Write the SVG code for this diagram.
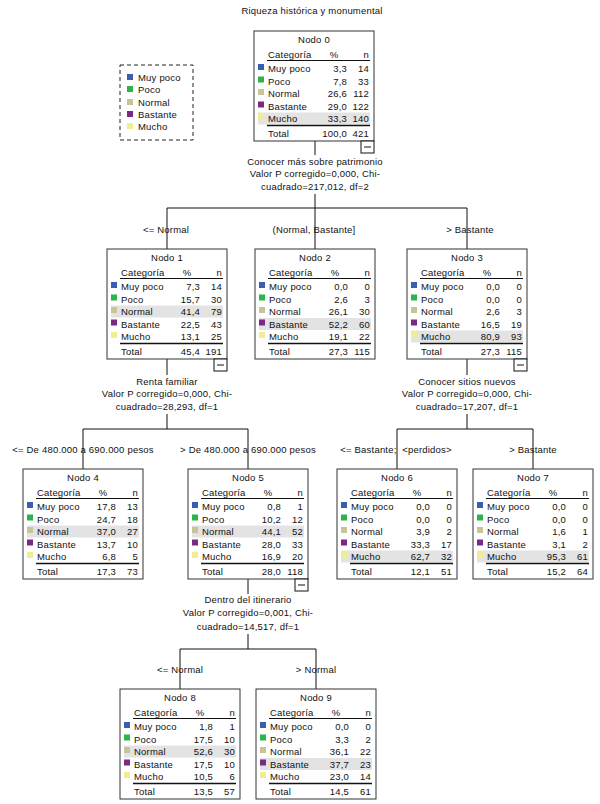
<svg xmlns="http://www.w3.org/2000/svg" width="600" height="804" viewBox="0 0 600 804">
<style>
text{font-family:"Liberation Sans",Arial,sans-serif;font-size:9.5px;fill:#111;letter-spacing:0.2px}
.c{text-anchor:middle}
.r{text-anchor:end}
.box{fill:#fff;stroke:#333;stroke-width:1}
.hl{fill:#e3e3e3}
.ln{stroke:#111;stroke-width:1;fill:none}
.tk{stroke:#111;stroke-width:1.5}
.c1{fill:#3a5fb0}.c2{fill:#2db34a}.c3{fill:#c8c49a}.c4{fill:#7a2a86}.c5{fill:#f0ee90}
.col{fill:#fff;stroke:#111;stroke-width:1}
</style>
<defs>
<g id="sq">
<rect class="c1" x="4" y="33" width="6" height="6"/>
<rect class="c2" x="4" y="45.5" width="6" height="6"/>
<rect class="c3" x="4" y="58" width="6" height="6"/>
<rect class="c4" x="4" y="70.5" width="6" height="6"/>
<rect class="c5" x="4" y="83" width="6" height="6"/>
</g>
<g id="frame">
<rect class="box" x="0" y="0" width="120" height="110"/>
</g>
<g id="labels">
<text x="14" y="26.5">Categoría</text><text class="c" x="80" y="26.5">%</text><text class="r" x="115" y="26.5">n</text>
<line class="ln" x1="13" y1="29.5" x2="116" y2="29.5"/>
<text x="14" y="41">Muy poco</text>
<text x="14" y="53.5">Poco</text>
<text x="14" y="66">Normal</text>
<text x="14" y="78.5">Bastante</text>
<text x="14" y="91">Mucho</text>
<line class="tk" x1="13" y1="94.5" x2="116" y2="94.5"/>
<text x="14" y="105.5">Total</text>
</g>
<g id="minus"><rect class="col" x="0" y="0" width="13" height="12"/><line class="ln" x1="3" y1="6" x2="10" y2="6"/></g>
</defs>

<text class="c" x="312" y="14">Riqueza histórica y monumental</text>

<g id="legend">
<rect x="120" y="65" width="73" height="75" fill="#fff" stroke="#222" stroke-dasharray="4,3"/>
<rect class="c1" x="127" y="74" width="6" height="6"/><text x="138" y="81">Muy poco</text>
<rect class="c2" x="127" y="86" width="6" height="6"/><text x="138" y="93">Poco</text>
<rect class="c3" x="127" y="99" width="6" height="6"/><text x="138" y="106">Normal</text>
<rect class="c4" x="127" y="111" width="6" height="6"/><text x="138" y="118">Bastante</text>
<rect class="c5" x="127" y="123" width="6" height="6"/><text x="138" y="130">Mucho</text>
</g>

<g id="connectors">
<line class="ln" x1="315" y1="140" x2="315" y2="155"/>
<text class="c" x="315" y="165">Conocer más sobre patrimonio</text>
<text class="c" x="315" y="177">Valor P corregido=0,000, Chi-</text>
<text class="c" x="315" y="190">cuadrado=217,012, df=2</text>
<polyline class="ln" points="315,194 315,208"/>
<polyline class="ln" points="167,249 167,208 467,208 467,249"/>
<line class="ln" x1="315" y1="208" x2="315" y2="249"/>
<text class="c" x="166" y="233">&lt;= Normal</text>
<text class="c" x="314" y="233">(Normal, Bastante]</text>
<text class="c" x="470" y="233">&gt; Bastante</text>

<line class="ln" x1="167" y1="359" x2="167" y2="375"/>
<text class="c" x="167" y="385">Renta familiar</text>
<text class="c" x="167" y="397">Valor P corregido=0,000, Chi-</text>
<text class="c" x="167" y="410">cuadrado=28,293, df=1</text>
<polyline class="ln" points="167,414 167,429"/>
<polyline class="ln" points="83,469 83,429 248,429 248,469"/>
<text class="c" x="83" y="453">&lt;= De 480.000 a 690.000 pesos</text>
<text class="c" x="248" y="453">&gt; De 480.000 a 690.000 pesos</text>

<line class="ln" x1="467" y1="359" x2="467" y2="375"/>
<text class="c" x="467" y="385">Conocer sitios nuevos</text>
<text class="c" x="467" y="397">Valor P corregido=0,000, Chi-</text>
<text class="c" x="467" y="410">cuadrado=17,207, df=1</text>
<polyline class="ln" points="467,414 467,429"/>
<polyline class="ln" points="397,469 397,429 533,429 533,469"/>
<text class="c" x="396" y="453">&lt;= Bastante;&#160; &lt;perdidos&gt;</text>
<text class="c" x="533" y="453">&gt; Bastante</text>

<line class="ln" x1="248" y1="579" x2="248" y2="594"/>
<text class="c" x="248" y="603">Dentro del itinerario</text>
<text class="c" x="248" y="616">Valor P corregido=0,001, Chi-</text>
<text class="c" x="248" y="630">cuadrado=14,517, df=1</text>
<polyline class="ln" points="248,634 248,649"/>
<polyline class="ln" points="180,689 180,649 316,649 316,689"/>
<text class="c" x="180" y="673">&lt;= Normal</text>
<text class="c" x="316" y="673">&gt; Normal</text>
</g>

<g id="nodo0" transform="translate(254,31)">
<use href="#frame"/><rect class="hl" x="4" y="81.5" width="112" height="12"/><use href="#sq"/><use href="#labels"/>
<text class="c" x="60" y="12">Nodo 0</text>
<text class="r" x="93" y="41">3,3</text><text class="r" x="115" y="41">14</text>
<text class="r" x="93" y="53.5">7,8</text><text class="r" x="115" y="53.5">33</text>
<text class="r" x="93" y="66">26,6</text><text class="r" x="115" y="66">112</text>
<text class="r" x="93" y="78.5">29,0</text><text class="r" x="115" y="78.5">122</text>
<text class="r" x="93" y="91">33,3</text><text class="r" x="115" y="91">140</text>
<text class="r" x="93" y="105.5">100,0</text><text class="r" x="115" y="105.5">421</text>
<use href="#minus" x="107" y="110"/>
</g>

<g id="nodo1" transform="translate(107,249)">
<use href="#frame"/><rect class="hl" x="4" y="56.5" width="112" height="12"/><use href="#sq"/><use href="#labels"/>
<text class="c" x="60" y="12">Nodo 1</text>
<text class="r" x="93" y="41">7,3</text><text class="r" x="115" y="41">14</text>
<text class="r" x="93" y="53.5">15,7</text><text class="r" x="115" y="53.5">30</text>
<text class="r" x="93" y="66">41,4</text><text class="r" x="115" y="66">79</text>
<text class="r" x="93" y="78.5">22,5</text><text class="r" x="115" y="78.5">43</text>
<text class="r" x="93" y="91">13,1</text><text class="r" x="115" y="91">25</text>
<text class="r" x="93" y="105.5">45,4</text><text class="r" x="115" y="105.5">191</text>
<use href="#minus" x="107" y="110"/>
</g>

<g id="nodo2" transform="translate(255,249)">
<use href="#frame"/><rect class="hl" x="4" y="69" width="112" height="12"/><use href="#sq"/><use href="#labels"/>
<text class="c" x="60" y="12">Nodo 2</text>
<text class="r" x="93" y="41">0,0</text><text class="r" x="115" y="41">0</text>
<text class="r" x="93" y="53.5">2,6</text><text class="r" x="115" y="53.5">3</text>
<text class="r" x="93" y="66">26,1</text><text class="r" x="115" y="66">30</text>
<text class="r" x="93" y="78.5">52,2</text><text class="r" x="115" y="78.5">60</text>
<text class="r" x="93" y="91">19,1</text><text class="r" x="115" y="91">22</text>
<text class="r" x="93" y="105.5">27,3</text><text class="r" x="115" y="105.5">115</text>
</g>

<g id="nodo3" transform="translate(407,249)">
<use href="#frame"/><rect class="hl" x="4" y="81.5" width="112" height="12"/><use href="#sq"/><use href="#labels"/>
<text class="c" x="60" y="12">Nodo 3</text>
<text class="r" x="93" y="41">0,0</text><text class="r" x="115" y="41">0</text>
<text class="r" x="93" y="53.5">0,0</text><text class="r" x="115" y="53.5">0</text>
<text class="r" x="93" y="66">2,6</text><text class="r" x="115" y="66">3</text>
<text class="r" x="93" y="78.5">16,5</text><text class="r" x="115" y="78.5">19</text>
<text class="r" x="93" y="91">80,9</text><text class="r" x="115" y="91">93</text>
<text class="r" x="93" y="105.5">27,3</text><text class="r" x="115" y="105.5">115</text>
<use href="#minus" x="107" y="110"/>
</g>

<g id="nodo4" transform="translate(23,469)">
<use href="#frame"/><rect class="hl" x="4" y="56.5" width="112" height="12"/><use href="#sq"/><use href="#labels"/>
<text class="c" x="60" y="12">Nodo 4</text>
<text class="r" x="93" y="41">17,8</text><text class="r" x="115" y="41">13</text>
<text class="r" x="93" y="53.5">24,7</text><text class="r" x="115" y="53.5">18</text>
<text class="r" x="93" y="66">37,0</text><text class="r" x="115" y="66">27</text>
<text class="r" x="93" y="78.5">13,7</text><text class="r" x="115" y="78.5">10</text>
<text class="r" x="93" y="91">6,8</text><text class="r" x="115" y="91">5</text>
<text class="r" x="93" y="105.5">17,3</text><text class="r" x="115" y="105.5">73</text>
</g>

<g id="nodo5" transform="translate(188,469)">
<use href="#frame"/><rect class="hl" x="4" y="56.5" width="112" height="12"/><use href="#sq"/><use href="#labels"/>
<text class="c" x="60" y="12">Nodo 5</text>
<text class="r" x="93" y="41">0,8</text><text class="r" x="115" y="41">1</text>
<text class="r" x="93" y="53.5">10,2</text><text class="r" x="115" y="53.5">12</text>
<text class="r" x="93" y="66">44,1</text><text class="r" x="115" y="66">52</text>
<text class="r" x="93" y="78.5">28,0</text><text class="r" x="115" y="78.5">33</text>
<text class="r" x="93" y="91">16,9</text><text class="r" x="115" y="91">20</text>
<text class="r" x="93" y="105.5">28,0</text><text class="r" x="115" y="105.5">118</text>
<use href="#minus" x="107" y="110"/>
</g>

<g id="nodo6" transform="translate(337,469)">
<use href="#frame"/><rect class="hl" x="4" y="81.5" width="112" height="12"/><use href="#sq"/><use href="#labels"/>
<text class="c" x="60" y="12">Nodo 6</text>
<text class="r" x="93" y="41">0,0</text><text class="r" x="115" y="41">0</text>
<text class="r" x="93" y="53.5">0,0</text><text class="r" x="115" y="53.5">0</text>
<text class="r" x="93" y="66">3,9</text><text class="r" x="115" y="66">2</text>
<text class="r" x="93" y="78.5">33,3</text><text class="r" x="115" y="78.5">17</text>
<text class="r" x="93" y="91">62,7</text><text class="r" x="115" y="91">32</text>
<text class="r" x="93" y="105.5">12,1</text><text class="r" x="115" y="105.5">51</text>
</g>

<g id="nodo7" transform="translate(473,469)">
<use href="#frame"/><rect class="hl" x="4" y="81.5" width="112" height="12"/><use href="#sq"/><use href="#labels"/>
<text class="c" x="60" y="12">Nodo 7</text>
<text class="r" x="93" y="41">0,0</text><text class="r" x="115" y="41">0</text>
<text class="r" x="93" y="53.5">0,0</text><text class="r" x="115" y="53.5">0</text>
<text class="r" x="93" y="66">1,6</text><text class="r" x="115" y="66">1</text>
<text class="r" x="93" y="78.5">3,1</text><text class="r" x="115" y="78.5">2</text>
<text class="r" x="93" y="91">95,3</text><text class="r" x="115" y="91">61</text>
<text class="r" x="93" y="105.5">15,2</text><text class="r" x="115" y="105.5">64</text>
</g>

<g id="nodo8" transform="translate(120,689)">
<use href="#frame"/><rect class="hl" x="4" y="56.5" width="112" height="12"/><use href="#sq"/><use href="#labels"/>
<text class="c" x="60" y="12">Nodo 8</text>
<text class="r" x="93" y="41">1,8</text><text class="r" x="115" y="41">1</text>
<text class="r" x="93" y="53.5">17,5</text><text class="r" x="115" y="53.5">10</text>
<text class="r" x="93" y="66">52,6</text><text class="r" x="115" y="66">30</text>
<text class="r" x="93" y="78.5">17,5</text><text class="r" x="115" y="78.5">10</text>
<text class="r" x="93" y="91">10,5</text><text class="r" x="115" y="91">6</text>
<text class="r" x="93" y="105.5">13,5</text><text class="r" x="115" y="105.5">57</text>
</g>

<g id="nodo9" transform="translate(256,689)">
<use href="#frame"/><rect class="hl" x="4" y="69" width="112" height="12"/><use href="#sq"/><use href="#labels"/>
<text class="c" x="60" y="12">Nodo 9</text>
<text class="r" x="93" y="41">0,0</text><text class="r" x="115" y="41">0</text>
<text class="r" x="93" y="53.5">3,3</text><text class="r" x="115" y="53.5">2</text>
<text class="r" x="93" y="66">36,1</text><text class="r" x="115" y="66">22</text>
<text class="r" x="93" y="78.5">37,7</text><text class="r" x="115" y="78.5">23</text>
<text class="r" x="93" y="91">23,0</text><text class="r" x="115" y="91">14</text>
<text class="r" x="93" y="105.5">14,5</text><text class="r" x="115" y="105.5">61</text>
</g>
</svg>
